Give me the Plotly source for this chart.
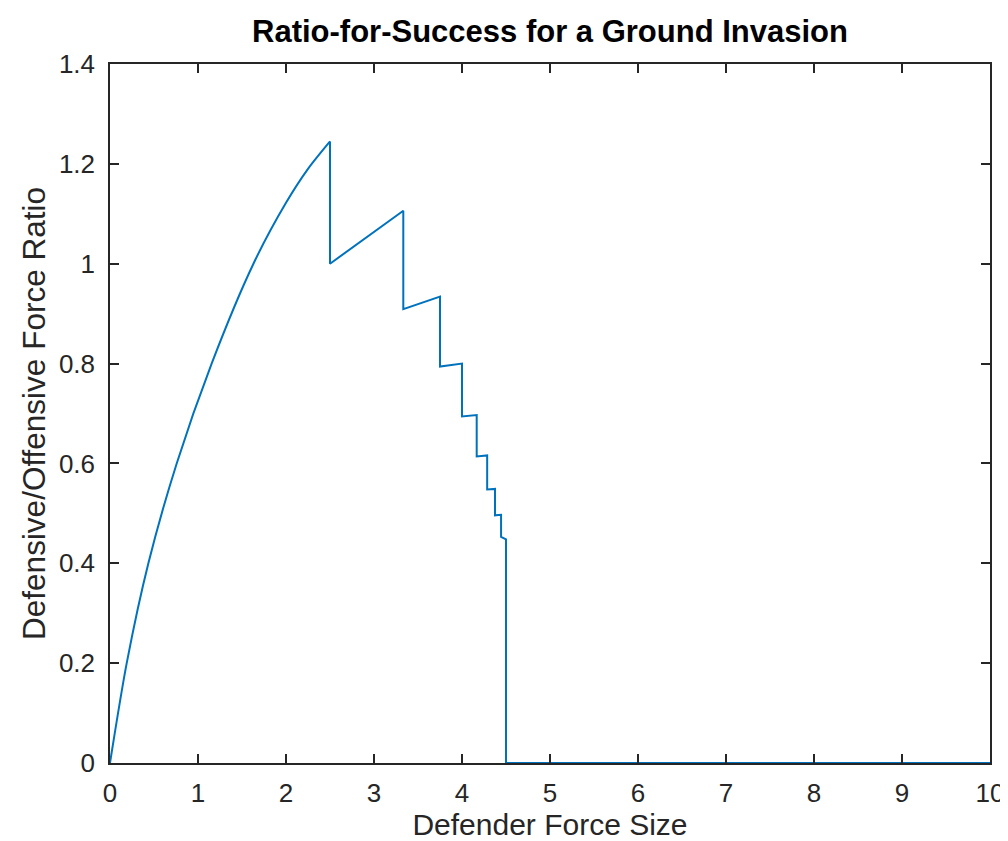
import plotly.graph_objects as go

# Rising branch
rise_x = [0.0, 0.19, 0.436, 0.758, 1.155, 1.63, 2.0, 2.25, 2.5]
rise_y = [0.0, 0.2, 0.4, 0.6, 0.8, 1.0, 1.122, 1.19, 1.245]

# Saw-tooth / step branch
step_x = [2.5, 2.5, 3.333, 3.333, 3.75, 3.75, 4.0, 4.0, 4.167, 4.167,
          4.286, 4.286, 4.375, 4.375, 4.444, 4.444, 4.5, 4.5, 10.0]
step_y = [1.245, 1.0, 1.106, 0.909, 0.934, 0.794, 0.80, 0.694, 0.697, 0.614,
          0.616, 0.548, 0.549, 0.496, 0.497, 0.453, 0.448, 0.0, 0.0]

x_ticks = [0, 1, 2, 3, 4, 5, 6, 7, 8, 9, 10]
y_ticks = [0, 0.2, 0.4, 0.6, 0.8, 1.0, 1.2, 1.4]
y_tick_text = ["0", "0.2", "0.4", "0.6", "0.8", "1", "1.2", "1.4"]

title_text = "Ratio-for-Success for a Ground Invasion"
x_title = "Defender Force Size"
y_title = "Defensive/Offensive Force Ratio"

LINE = "#0072BD"
AX = "#262626"
FONT = "Liberation Sans, Arial, sans-serif"

fig = go.Figure()
fig.add_trace(go.Scatter(x=rise_x, y=rise_y, mode="lines",
                         line=dict(color=LINE, width=2, shape="spline", smoothing=0.8),
                         showlegend=False, hoverinfo="skip"))
fig.add_trace(go.Scatter(x=step_x, y=step_y, mode="lines",
                         line=dict(color=LINE, width=2),
                         showlegend=False, hoverinfo="skip"))

fig.update_layout(
    width=1008, height=841,
    margin=dict(l=102, r=22, t=56, b=86),
    paper_bgcolor="white", plot_bgcolor="white",
    font=dict(family=FONT, color=AX),
    title=dict(text="<b>" + title_text + "</b>", x=0.5, xref="paper", xanchor="center",
               y=1 - 23 / 841, yref="container", yanchor="middle",
               font=dict(size=31, color="#000000", family=FONT)),
)
fig.update_xaxes(range=[0, 10], tickvals=x_ticks, ticks="inside", ticklen=9, tickwidth=1.5,
                 tickcolor=AX, showline=True, linecolor=AX, linewidth=1.5, mirror="ticks",
                 showgrid=False, zeroline=False,
                 tickfont=dict(size=26, color=AX, family=FONT),
                 ticklabelstandoff=6,
                 title=dict(text=x_title, font=dict(size=30, color=AX, family=FONT), standoff=3))
fig.update_yaxes(range=[0, 1.4], tickvals=y_ticks, ticktext=y_tick_text, ticks="inside",
                 ticklen=9, tickwidth=1.5,
                 tickcolor=AX, showline=True, linecolor=AX, linewidth=1.5, mirror="ticks",
                 showgrid=False, zeroline=False,
                 tickfont=dict(size=26, color=AX, family=FONT),
                 ticklabelstandoff=8,
                 title=dict(text=y_title, font=dict(size=31.5, color=AX, family=FONT), standoff=4))

fig.write_html("out.html")
